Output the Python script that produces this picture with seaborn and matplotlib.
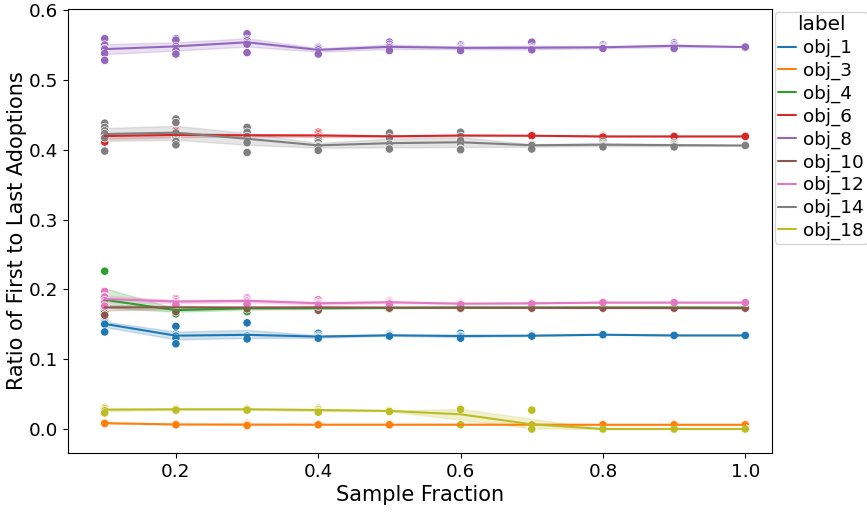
import numpy as np
import pandas as pd
import matplotlib
matplotlib.use("Agg")
import matplotlib.pyplot as plt
import seaborn as sns

fractions = [0.1, 0.2, 0.3, 0.4, 0.5, 0.6, 0.7, 0.8, 0.9, 1.0]
labels = ["obj_1", "obj_3", "obj_4", "obj_6", "obj_8", "obj_10", "obj_12", "obj_14", "obj_18"]

obj_1 = [
    [0.156, 0.153, 0.153, 0.152, 0.150, 0.139],
    [0.147, 0.136, 0.134, 0.133, 0.130, 0.122],
    [0.152, 0.134, 0.133, 0.131, 0.130, 0.129],
    [0.137, 0.134, 0.132, 0.131, 0.130, 0.130],
    [0.136, 0.135, 0.134, 0.134, 0.133, 0.133],
    [0.137, 0.134, 0.133, 0.133, 0.132, 0.130],
    [0.135, 0.134, 0.134, 0.133, 0.133, 0.133],
    [0.135, 0.135, 0.135, 0.135, 0.135, 0.135],
    [0.134, 0.134, 0.134, 0.134, 0.134, 0.134],
    [0.134, 0.134, 0.134, 0.134, 0.134, 0.134],
]
obj_3 = [
    [0.009, 0.009, 0.008, 0.008, 0.008, 0.008],
    [0.007, 0.007, 0.007, 0.006, 0.006, 0.006],
    [0.008, 0.007, 0.006, 0.006, 0.006, 0.005],
    [0.007, 0.006, 0.006, 0.006, 0.006, 0.006],
    [0.007, 0.006, 0.006, 0.006, 0.006, 0.006],
    [0.007, 0.006, 0.006, 0.006, 0.006, 0.006],
    [0.007, 0.006, 0.006, 0.006, 0.006, 0.006],
    [0.006, 0.006, 0.006, 0.006, 0.006, 0.006],
    [0.006, 0.006, 0.006, 0.006, 0.006, 0.006],
    [0.006, 0.006, 0.006, 0.006, 0.006, 0.006],
]
obj_4 = [
    [0.226, 0.185, 0.178, 0.177, 0.176, 0.168],
    [0.175, 0.172, 0.171, 0.170, 0.168, 0.165],
    [0.176, 0.175, 0.174, 0.173, 0.171, 0.168],
    [0.175, 0.174, 0.173, 0.173, 0.172, 0.171],
    [0.175, 0.174, 0.174, 0.173, 0.173, 0.172],
    [0.175, 0.174, 0.174, 0.174, 0.174, 0.173],
    [0.175, 0.174, 0.174, 0.174, 0.174, 0.173],
    [0.175, 0.174, 0.174, 0.174, 0.174, 0.174],
    [0.175, 0.174, 0.174, 0.174, 0.174, 0.174],
    [0.174, 0.174, 0.174, 0.174, 0.174, 0.174],
]
obj_6 = [
    [0.427, 0.423, 0.420, 0.418, 0.418, 0.411],
    [0.428, 0.426, 0.421, 0.419, 0.417, 0.416],
    [0.424, 0.422, 0.421, 0.420, 0.419, 0.418],
    [0.425, 0.423, 0.421, 0.419, 0.418, 0.416],
    [0.421, 0.420, 0.419, 0.419, 0.418, 0.418],
    [0.422, 0.421, 0.421, 0.420, 0.419, 0.419],
    [0.420, 0.420, 0.420, 0.420, 0.420, 0.420],
    [0.420, 0.419, 0.419, 0.419, 0.419, 0.418],
    [0.419, 0.419, 0.419, 0.419, 0.419, 0.419],
    [0.419, 0.419, 0.419, 0.419, 0.419, 0.419],
]
obj_8 = [
    [0.559, 0.550, 0.545, 0.544, 0.538, 0.528],
    [0.559, 0.557, 0.548, 0.545, 0.542, 0.537],
    [0.566, 0.558, 0.556, 0.553, 0.551, 0.539],
    [0.547, 0.546, 0.545, 0.543, 0.540, 0.537],
    [0.554, 0.551, 0.548, 0.546, 0.543, 0.542],
    [0.550, 0.548, 0.546, 0.545, 0.544, 0.542],
    [0.554, 0.547, 0.545, 0.544, 0.543, 0.543],
    [0.550, 0.548, 0.546, 0.546, 0.545, 0.545],
    [0.553, 0.551, 0.550, 0.548, 0.546, 0.545],
    [0.547, 0.547, 0.547, 0.547, 0.547, 0.547],
]
obj_10 = [
    [0.180, 0.178, 0.176, 0.174, 0.174, 0.163],
    [0.178, 0.177, 0.176, 0.174, 0.172, 0.168],
    [0.176, 0.175, 0.174, 0.174, 0.173, 0.172],
    [0.177, 0.176, 0.175, 0.174, 0.173, 0.170],
    [0.175, 0.174, 0.174, 0.174, 0.173, 0.173],
    [0.175, 0.174, 0.174, 0.173, 0.173, 0.173],
    [0.174, 0.174, 0.174, 0.173, 0.173, 0.173],
    [0.174, 0.174, 0.173, 0.173, 0.173, 0.173],
    [0.174, 0.173, 0.173, 0.173, 0.173, 0.173],
    [0.173, 0.173, 0.173, 0.173, 0.173, 0.173],
]
obj_12 = [
    [0.197, 0.190, 0.189, 0.184, 0.181, 0.176],
    [0.187, 0.185, 0.183, 0.182, 0.180, 0.178],
    [0.188, 0.186, 0.184, 0.183, 0.181, 0.179],
    [0.185, 0.182, 0.180, 0.179, 0.178, 0.176],
    [0.184, 0.183, 0.182, 0.181, 0.180, 0.179],
    [0.181, 0.180, 0.180, 0.179, 0.179, 0.178],
    [0.181, 0.181, 0.180, 0.180, 0.179, 0.179],
    [0.181, 0.181, 0.181, 0.181, 0.181, 0.181],
    [0.181, 0.181, 0.181, 0.181, 0.181, 0.181],
    [0.181, 0.181, 0.181, 0.181, 0.181, 0.181],
]
obj_14 = [
    [0.438, 0.432, 0.427, 0.423, 0.417, 0.398],
    [0.444, 0.439, 0.420, 0.424, 0.412, 0.407],
    [0.432, 0.425, 0.419, 0.412, 0.410, 0.396],
    [0.413, 0.410, 0.406, 0.405, 0.404, 0.399],
    [0.424, 0.417, 0.408, 0.405, 0.401, 0.401],
    [0.425, 0.419, 0.413, 0.406, 0.401, 0.400],
    [0.409, 0.408, 0.407, 0.407, 0.406, 0.401],
    [0.412, 0.409, 0.407, 0.406, 0.405, 0.404],
    [0.410, 0.408, 0.407, 0.405, 0.405, 0.404],
    [0.406, 0.406, 0.406, 0.406, 0.406, 0.406],
]
obj_18 = [
    [0.031, 0.030, 0.029, 0.027, 0.026, 0.023],
    [0.029, 0.029, 0.028, 0.028, 0.028, 0.027],
    [0.029, 0.029, 0.028, 0.028, 0.028, 0.027],
    [0.030, 0.029, 0.028, 0.027, 0.025, 0.024],
    [0.027, 0.026, 0.026, 0.026, 0.025, 0.025],
    [0.029, 0.029, 0.028, 0.028, 0.006, 0.006],
    [0.027, 0.007, 0.006, 0.000, 0.000, 0.000],
    [0.000, 0.000, 0.000, 0.000, 0.000, 0.000],
    [0.000, 0.000, 0.000, 0.000, 0.000, 0.000],
    [0.000, 0.000, 0.000, 0.000, 0.000, 0.000],
]

series = [obj_1, obj_3, obj_4, obj_6, obj_8, obj_10, obj_12, obj_14, obj_18]

rows = []
for lab, vals in zip(labels, series):
    for frac, reps in zip(fractions, vals):
        for v in reps:
            rows.append({"Sample Fraction": frac, "ratio": v, "label": lab})
df = pd.DataFrame(rows)

sns.set_theme(style="ticks", palette="tab10", font_scale=1.2, rc={
    "axes.edgecolor": "black",
    "axes.linewidth": 0.8,
    "text.color": "black",
    "axes.labelcolor": "black",
    "xtick.color": "black",
    "ytick.color": "black",
    "xtick.major.size": 3.5,
    "ytick.major.size": 3.5,
    "xtick.major.width": 0.8,
    "ytick.major.width": 0.8,
})
plt.rcParams["font.family"] = ["DejaVu Sans"]
plt.rcParams["axes.labelsize"] = 15

fig = plt.figure(figsize=(8.67, 5.12), dpi=100)
ax = fig.add_axes([68 / 867, 1 - 453 / 512, (772 - 68) / 867, (453 - 9) / 512])

sns.lineplot(data=df, x="Sample Fraction", y="ratio", hue="label",
             hue_order=labels, palette="tab10", ax=ax, seed=0)
sns.scatterplot(data=df, x="Sample Fraction", y="ratio", hue="label",
                hue_order=labels, palette="tab10", ax=ax, legend=False)

ax.set_xlim(0.0484, 1.0375)
ax.set_ylim(-0.0344, 0.6015)
ax.set_yticks([0.0, 0.1, 0.2, 0.3, 0.4, 0.5, 0.6])
ax.set_xticks([0.2, 0.4, 0.6, 0.8, 1.0])
ax.set_xlabel("Sample Fraction", labelpad=3)
ax.set_ylabel("Ratio of First to Last Adoptions", labelpad=1.5)

sns.move_legend(ax, "upper left", bbox_to_anchor=(1.0, 1.0), title="label",
                borderaxespad=0.15, labelspacing=0.25, handlelength=0.95,
                handletextpad=0.4, borderpad=0.2, frameon=True)

fig.savefig("out.png", dpi=100)
